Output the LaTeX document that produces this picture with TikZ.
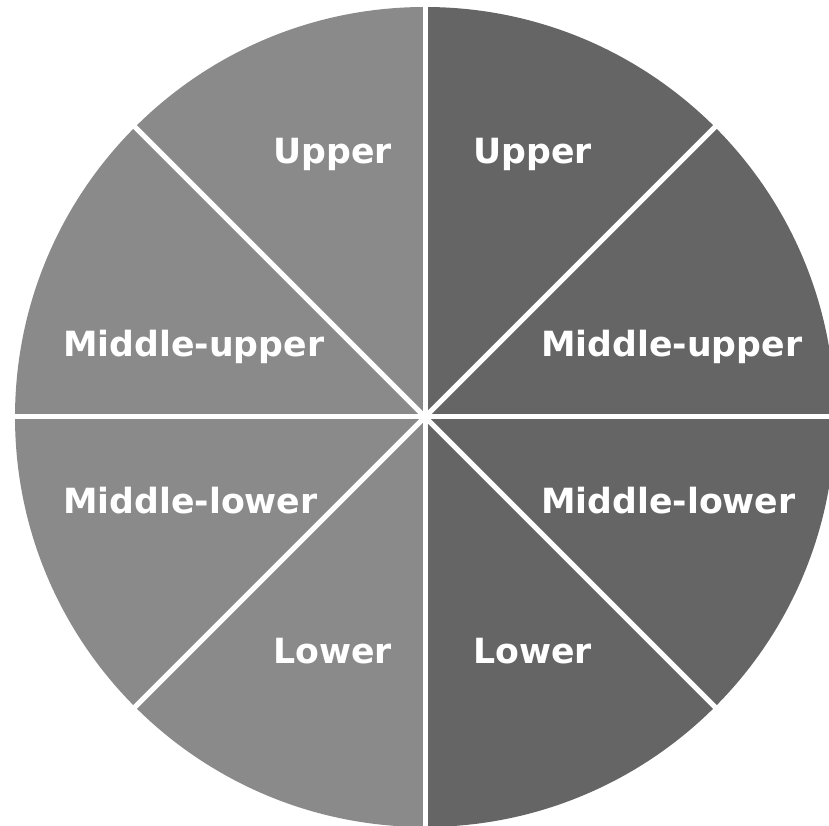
\documentclass[tikz,border=0pt]{standalone}
\usepackage{fontspec}
\usepackage{tikz}
\newfontfamily\labelfont{DejaVu Sans}
\definecolor{leftgray}{RGB}{138,138,138}
\definecolor{rightgray}{RGB}{101,101,101}

\begin{document}
\begin{tikzpicture}[
  x=1pt, y=1pt,
  sep/.style={white, line width=5pt},
  lbl/.style={text=white, inner sep=0pt,
              font=\labelfont\bfseries\fontsize{34.7}{40}\selectfont},
]
\useasboundingbox (0,0) rectangle (829,826);
\clip (0,0) rectangle (829,826);
\coordinate (c) at (425,409);

% two halves
\fill[leftgray] (c) -- ++(90:410) arc (90:270:410) -- cycle;
\fill[rightgray] (c) -- ++(-90:410) arc (-90:90:410) -- cycle;

% white separators
\foreach \a in {0,45,...,315}
  \draw[sep] (c) -- ++(\a:420);

% left labels
\node[lbl, anchor=base east] (upL) at (392,662) {Upper};
\node[lbl, anchor=base west] (mupL) at (63,469) {Middle-upper};
\node[lbl, anchor=base west] (mloL) at (63,312) {Middle-lower};
\node[lbl, anchor=base east] (loL) at (392,162) {Lower};

% right labels
\node[lbl, anchor=base west] (upR) at (473,662) {Upper};
\node[lbl, anchor=base west] (mupR) at (541,469) {Middle-upper};
\node[lbl, anchor=base west] (mloR) at (541,312) {Middle-lower};
\node[lbl, anchor=base west] (loR) at (473,162) {Lower};
\end{tikzpicture}
\end{document}
